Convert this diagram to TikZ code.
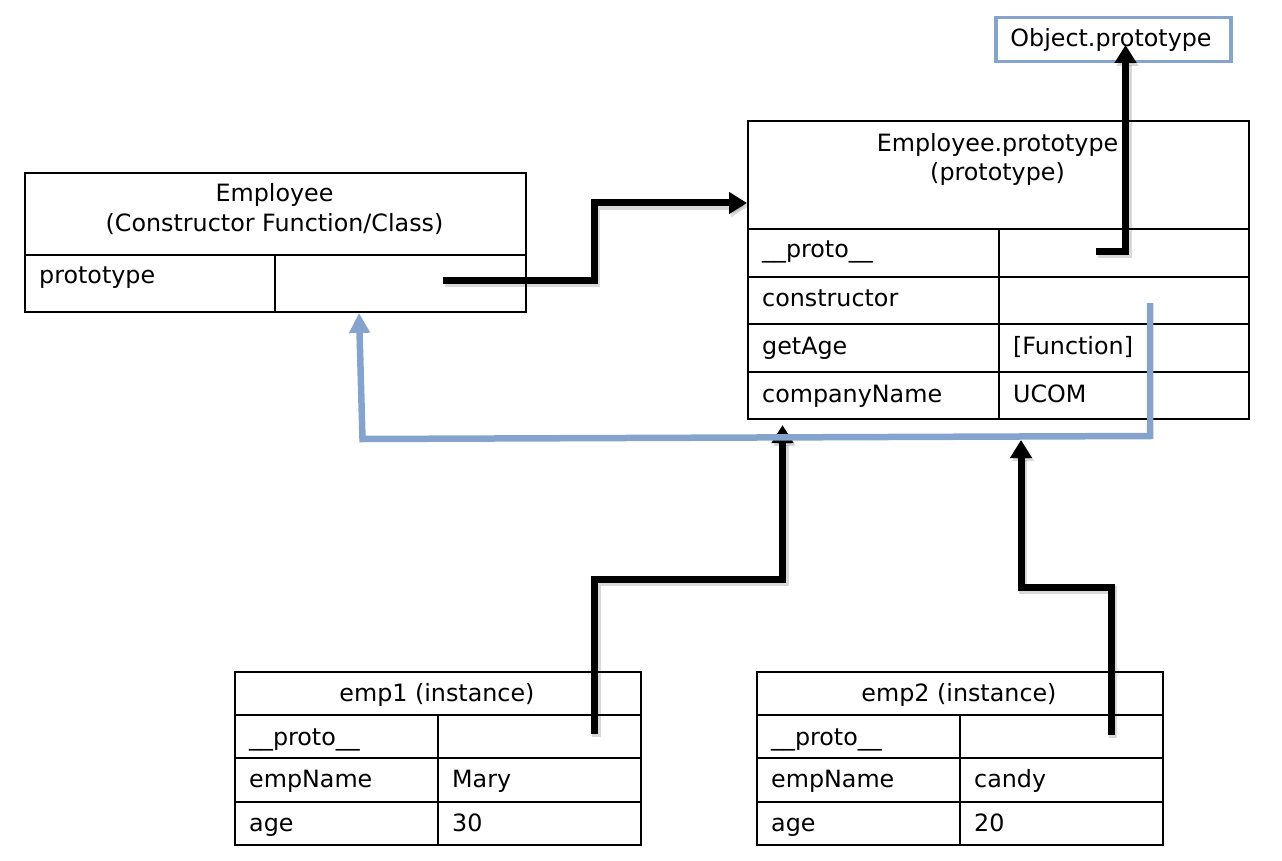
\documentclass[tikz,border=0pt]{standalone}
\usepackage{fontspec}
\setmainfont{DejaVu Sans}
\usetikzlibrary{arrows.meta}
\definecolor{lblue}{RGB}{132,164,206}
\begin{document}
\begin{tikzpicture}[x=1pt,y=-1pt,
  cell/.style={draw=black, line width=2pt, anchor=north west, inner sep=0pt},
  txt/.style={inner sep=0pt, anchor=base west, font=\fontsize{23.8}{28}\selectfont},
  ctxt/.style={inner sep=0pt, anchor=base, font=\fontsize{23.8}{28}\selectfont},
  shadowed/.style={preaction={draw=black, opacity=0.15, line width=8.5pt,
      transform canvas={shift={(2pt,-3pt)}}}},
  blk/.style={draw=black, line width=7pt, shadowed,
      -{Triangle[length=18pt,width=21pt]}},
  blu/.style={draw=lblue, line width=6.5pt,
      -{Triangle[length=20pt,width=20pt]}}
]
\useasboundingbox (0,0) rectangle (1282,861);

% Object.prototype
\node[draw=lblue, line width=3.5pt, anchor=north west, inner sep=0pt,
      minimum width=235pt, minimum height=44pt] (op) at (994,16) {};
\node[ctxt] (opt) at (1111,47) {Object.prototype};

% Employee constructor table
\node[cell, minimum width=501pt, minimum height=82pt] (eh) at (24,172) {};
\node[cell, minimum width=250pt, minimum height=57pt] (ek) at (24,254) {};
\node[cell, minimum width=251pt, minimum height=57pt] (ev) at (274,254) {};
\node[ctxt] (eh1) at (274.5,202) {Employee};
\node[ctxt] (eh2) at (274.5,232) {(Constructor Function/Class)};
\node[txt] (ekt) at (39,283) {prototype};

% Employee.prototype table
\node[cell, minimum width=501pt, minimum height=108pt] (ph) at (747,120) {};
\node[ctxt] (ph1) at (997.5,152) {Employee.prototype};
\node[ctxt] (ph2) at (997.5,181) {(prototype)};
\node[cell, minimum width=251pt, minimum height=47.5pt] (pk1) at (747,228) {};
\node[cell, minimum width=250pt, minimum height=47.5pt] (pv1) at (998,228) {};
\node[cell, minimum width=251pt, minimum height=47.5pt] (pk2) at (747,275.5) {};
\node[cell, minimum width=250pt, minimum height=47.5pt] (pv2) at (998,275.5) {};
\node[cell, minimum width=251pt, minimum height=47.5pt] (pk3) at (747,323) {};
\node[cell, minimum width=250pt, minimum height=47.5pt] (pv3) at (998,323) {};
\node[cell, minimum width=251pt, minimum height=47.5pt] (pk4) at (747,370.5) {};
\node[cell, minimum width=250pt, minimum height=47.5pt] (pv4) at (998,370.5) {};
\node[txt] (pk1t) at (762,258) {\_\_proto\_\_};
\node[txt] (pk2t) at (762,306) {constructor};
\node[txt] (pk3t) at (762,354) {getAge};
\node[txt] (pv3t) at (1013,354) {[Function]};
\node[txt] (pk4t) at (762,402) {companyName};
\node[txt] (pv4t) at (1013,402) {UCOM};

% emp1 table
\node[cell, minimum width=406pt, minimum height=43pt] (ah) at (234,671) {};
\node[ctxt] (aht) at (437,701) {emp1 (instance)};
\node[cell, minimum width=203pt, minimum height=43.3pt] (ak1) at (234,714) {};
\node[cell, minimum width=203pt, minimum height=43.3pt] (av1) at (437,714) {};
\node[cell, minimum width=203pt, minimum height=43.3pt] (ak2) at (234,757.3) {};
\node[cell, minimum width=203pt, minimum height=43.3pt] (av2) at (437,757.3) {};
\node[cell, minimum width=203pt, minimum height=43.3pt] (ak3) at (234,800.6) {};
\node[cell, minimum width=203pt, minimum height=43.3pt] (av3) at (437,800.6) {};
\node[txt] (ak1t) at (249,745) {\_\_proto\_\_};
\node[txt] (ak2t) at (249,787) {empName};
\node[txt] (av2t) at (452,787) {Mary};
\node[txt] (ak3t) at (249,831) {age};
\node[txt] (av3t) at (452,831) {30};

% emp2 table
\node[cell, minimum width=406pt, minimum height=43pt] (bh) at (756,671) {};
\node[ctxt] (bht) at (959,701) {emp2 (instance)};
\node[cell, minimum width=203pt, minimum height=43.3pt] (bk1) at (756,714) {};
\node[cell, minimum width=203pt, minimum height=43.3pt] (bv1) at (959,714) {};
\node[cell, minimum width=203pt, minimum height=43.3pt] (bk2) at (756,757.3) {};
\node[cell, minimum width=203pt, minimum height=43.3pt] (bv2) at (959,757.3) {};
\node[cell, minimum width=203pt, minimum height=43.3pt] (bk3) at (756,800.6) {};
\node[cell, minimum width=203pt, minimum height=43.3pt] (bv3) at (959,800.6) {};
\node[txt] (bk1t) at (771,745) {\_\_proto\_\_};
\node[txt] (bk2t) at (771,787) {empName};
\node[txt] (bv2t) at (974,787) {candy};
\node[txt] (bk3t) at (771,831) {age};
\node[txt] (bv3t) at (974,831) {20};

% connector end points
\coordinate (s1) at (443,280);
\coordinate (t1) at (ph.west |- 0,203);
\coordinate (s2) at (1096,251);
\coordinate (t2) at (1125.5,45);
\coordinate (s3) at (594.5,734);
\coordinate (t3) at (782.5,425);
\coordinate (s4) at (1111,735);
\coordinate (t4) at (1021,440);
\coordinate (s5) at (1150,303);
\coordinate (t5) at (359,313);

% black connectors
\draw[blk] (s1) -- (594,280) -- (594,203) -- (t1);
\draw[blk] (s2) -- (1125.5,251) -- (t2);
\draw[blk] (s3) -- (594.5,579) -- (782.5,579) -- (t3);
\draw[blk] (s4) -- (1111,587) -- (1021,587) -- (t4);

% blue connector (constructor -> Employee)
\draw[blu] (s5) -- (1150,436) -- (362.5,439) -- (t5);
\end{tikzpicture}
\end{document}
